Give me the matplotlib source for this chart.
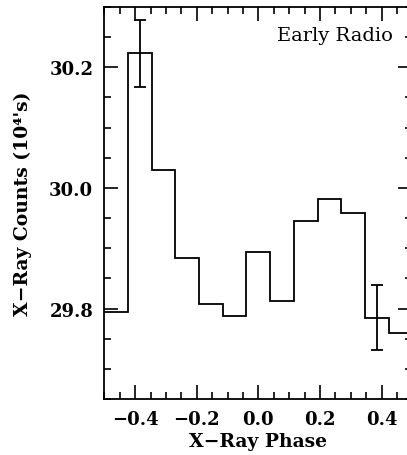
import matplotlib
matplotlib.use("Agg")
import matplotlib.pyplot as plt
import numpy as np
from matplotlib.ticker import MultipleLocator

# Data: 13 phase bins from -0.5 to 0.5
bin_edges = np.linspace(-0.5, 0.5, 14)
counts = [29.795, 30.223, 30.030, 29.883, 29.807, 29.788, 29.893,
          29.813, 29.946, 29.982, 29.959, 29.785, 29.760]
err_bins = [1, 11]           # bins that carry an error bar
err_sizes = [0.055, 0.054]
x_ticks = [-0.4, -0.2, 0.0, 0.2, 0.4]
y_ticks = [29.8, 30.0, 30.2]

plt.rcParams['font.family'] = ['DejaVu Serif']

fig = plt.figure(figsize=(4.07, 4.56), dpi=100)
# axes run slightly past the right edge, as in the original
ax = fig.add_axes([0.2563, 0.1228, 0.7568, 0.8596])

ax.stairs(counts, bin_edges, baseline=None, color='black', linewidth=1.3)

centres = (bin_edges[:-1] + bin_edges[1:]) / 2
ax.errorbar(centres[err_bins], [counts[i] for i in err_bins], yerr=err_sizes,
            fmt='none', ecolor='black', elinewidth=1.3, capsize=4.5, capthick=1.3)

ax.set_xlim(-0.5, 0.5)
ax.set_ylim(29.65, 30.3)

ax.set_xticks(x_ticks)
ax.set_xticklabels([f"{v:.1f}".replace('-', '\u2212') for v in x_ticks])
ax.set_yticks(y_ticks)
ax.set_yticklabels([f"{v:.1f}" for v in y_ticks])
ax.xaxis.set_minor_locator(MultipleLocator(0.05))
ax.yaxis.set_minor_locator(MultipleLocator(0.05))

ax.tick_params(which='both', direction='in', top=True, right=True, width=1.2)
ax.tick_params(which='major', length=10, pad=8, labelsize=13)
ax.tick_params(which='minor', length=5)
for lab in ax.get_xticklabels() + ax.get_yticklabels():
    lab.set_fontweight('bold')

for s in ax.spines.values():
    s.set_linewidth(1.3)

ax.set_xlabel('X\u2212Ray Phase', fontsize=13.5, fontweight='bold', labelpad=3)
ax.set_ylabel("X\u2212Ray Counts (10\u2074's)", fontsize=13.5, fontweight='bold', labelpad=12)

ax.text(0.937, 0.952, 'Early Radio', transform=ax.transAxes,
        ha='right', va='top', fontsize=14)

fig.savefig('out.png', dpi=100)
